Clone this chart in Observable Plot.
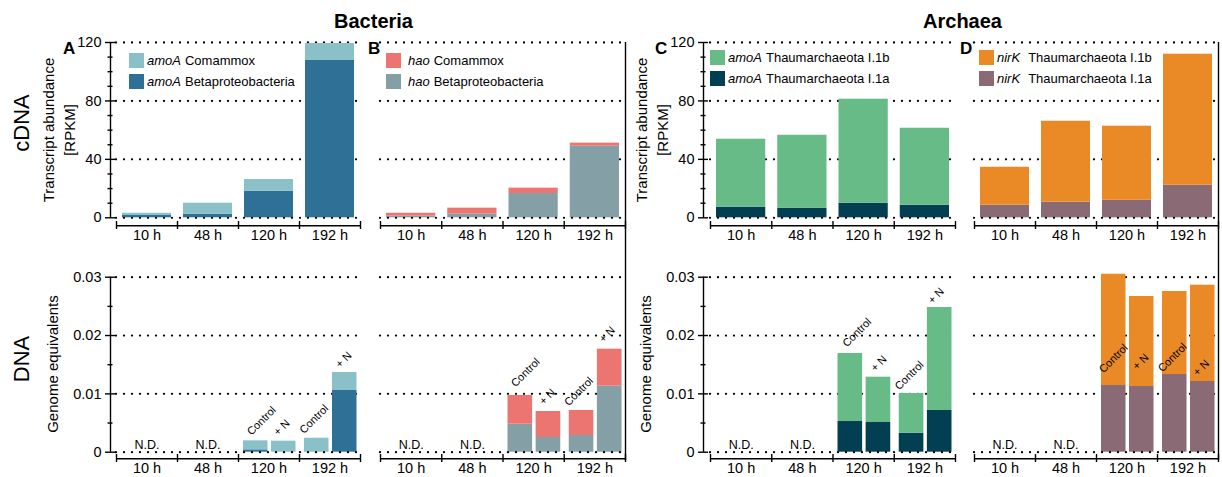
<!DOCTYPE html>
<html>
<head>
<meta charset="utf-8">
<script src="https://cdn.jsdelivr.net/npm/d3@7"></script>
<script src="https://cdn.jsdelivr.net/npm/@observablehq/plot@0.6"></script>
<style>
  html, body { margin: 0; padding: 0; background: #fff; }
  #fig { position: relative; width: 1222px; height: 477px; overflow: hidden;
         font-family: "Liberation Sans", Arial, Helvetica, sans-serif; color: #000; }
  #fig svg { position: absolute; left: 0; top: 0; }
  .t { position: absolute; white-space: nowrap; line-height: 1; }
  .rot { position: absolute; white-space: nowrap; text-align: center;
         transform: translate(-50%, -50%) rotate(-90deg); }
  .leg { position: absolute; font-size: 13px; line-height: 15px; }
  .leg .row { display: flex; align-items: center; height: 15px; margin-bottom: 6px; white-space: nowrap; }
  .leg .sw { width: 15px; height: 15px; flex: none; }
</style>
</head>
<body>
<div id="fig"></div>
<script>
// ---------------- data ----------------
const times = ["10 h", "48 h", "120 h", "192 h"];
const treatments = ["Control", "+ N"];
const notDetected = ["10 h", "48 h"];
// DNA bars (genome equivalents) exist only for these time / treatment slots
const dnaTime = ["120 h", "120 h", "192 h", "192 h"];
const dnaTreatment = ["Control", "+ N", "Control", "+ N"];

// cDNA transcript abundance [RPKM], one value per time
const amoaBetaCdna     = [1.6, 2.5, 18.2, 107.7];
const amoaComammoxCdna = [1.5, 7.5, 8.0, 11.6];
const haoBetaCdna      = [1.1, 2.5, 16.6, 49.0];
const haoComammoxCdna  = [2.0, 4.1, 3.7, 2.1];
const amoaI1aCdna      = [7.3, 6.6, 10.0, 8.6];
const amoaI1bCdna      = [46.5, 49.9, 71.2, 52.7];
const nirkI1aCdna      = [8.6, 10.7, 12.0, 22.3];
const nirkI1bCdna      = [26.0, 55.4, 50.7, 89.7];

// DNA genome equivalents, one value per dna slot
const amoaBetaDna      = [0.0004, 0, 0, 0.01058];
const amoaComammoxDna  = [0.00155, 0.00189, 0.0024, 0.00308];
const haoBetaDna       = [0.0048, 0.00252, 0.00286, 0.01132];
const haoComammoxDna   = [0.00492, 0.00446, 0.00429, 0.00634];
const amoaI1aDna       = [0.00526, 0.00509, 0.00326, 0.00715];
const amoaI1bDna       = [0.01166, 0.00777, 0.0068, 0.01765];
const nirkI1aDna       = [0.01143, 0.01126, 0.01332, 0.01212];
const nirkI1bDna       = [0.01908, 0.01543, 0.01423, 0.01651];

// ticks
const cdnaTicks = [0, 40, 80, 120];
const cdnaMinorTicks = [10, 20, 30, 50, 60, 70, 90, 100, 110];
const dnaTicks = [0, 0.01, 0.02, 0.03];
const dnaTickLabels = ["0", "0.01", "0.02", "0.03"];
const dnaMinorTicks = [0.005, 0.015, 0.025];

// ---------------- layout / style ----------------
const W = 1222, H = 477;
const FONT = '"Liberation Sans", Arial, Helvetica, sans-serif';
const dotted = {stroke: "#000", strokeWidth: 2.3, strokeDasharray: "0 8", strokeLinecap: "round"};
const axisStroke = {stroke: "#000", strokeWidth: 1.4};

const panels = [
  {id: "A", x0: 116, x1: 360, yAxis: 110, sep: false, gene: "amoA",
   taxa: ["Betaproteobacteria", "Comammox"], colors: ["#2f7096", "#8ac1c9"],
   cdna: [amoaBetaCdna, amoaComammoxCdna], dna: [amoaBetaDna, amoaComammoxDna],
   labelOnBase: false, labelDx: [13, 9, 4.5, 10], labelDy: [-5, -5, -4, -4],
   legend: {left: 129, top: 53, gap: 3, geneGap: 4}},
  {id: "B", x0: 380, x1: 625, yAxis: null, sep: true, gene: "hao",
   taxa: ["Betaproteobacteria", "Comammox"], colors: ["#849fa6", "#ec7571"],
   cdna: [haoBetaCdna, haoComammoxCdna], dna: [haoBetaDna, haoComammoxDna],
   labelOnBase: false, labelDx: [12.5, 10, 4.5, 8.5], labelDy: [-8, -6, -4, -6],
   legend: {left: 386, top: 53, gap: 7, geneGap: 4}},
  {id: "C", x0: 710, x1: 955, yAxis: 703, sep: false, gene: "amoA",
   taxa: ["Thaumarchaeota I.1a", "Thaumarchaeota I.1b"], colors: ["#023f52", "#66bb87"],
   cdna: [amoaI1aCdna, amoaI1bCdna], dna: [amoaI1aDna, amoaI1bDna],
   labelOnBase: false, labelDx: [14, 11.5, 5, 7.5], labelDy: [-6, -5, -3, -3],
   legend: {left: 710, top: 50, gap: 3, geneGap: 4}},
  {id: "D", x0: 974, x1: 1218, yAxis: null, sep: true, gene: "nirK",
   taxa: ["Thaumarchaeota I.1a", "Thaumarchaeota I.1b"], colors: ["#8a6b75", "#ea8a27"],
   cdna: [nirkI1aCdna, nirkI1bCdna], dna: [nirkI1aDna, nirkI1bDna],
   labelOnBase: true, labelDx: [7, 10, 5, 9.5], labelDy: [-12, -16, -2, -5],
   legend: {left: 979, top: 50, gap: 3, geneGap: 8}}
];

const fig = document.getElementById("fig");
const seriesNames = p => p.taxa.map(t => p.gene + " " + t);

function yAxisMarks(p, ticks, minor, top, fmt) {
  if (p.yAxis == null) return [];
  return [
    Plot.ruleX([0], {dx: p.yAxis - p.x0, y1: 0, y2: top, ...axisStroke}),
    Plot.axisY({ticks: minor, tickSize: 5, dx: 2.5, fill: null, label: null, strokeWidth: 1.4}),
    Plot.axisY({ticks: ticks, tickSize: 10, dx: 5, fill: null, label: null, strokeWidth: 1.4}),
    Plot.axisY({ticks: ticks, tickSize: 0, tickPadding: 9, fontSize: 14.5, label: null, tickFormat: fmt})
  ];
}

function xAxisMarks(axisDy) {
  return [
    Plot.ruleY([0], {x1: 0, x2: times.length, dy: axisDy, ...axisStroke}),
    Plot.axisX({ticks: d3.range(times.length + 1), tickSize: 8, dy: -4, fill: null, label: null, strokeWidth: 1.4}),
    Plot.axisX({ticks: times.map((t, i) => i + 0.5), tickSize: 0, tickPadding: 4, fontSize: 14.5,
                label: null, tickFormat: d => times[Math.floor(d)]})
  ];
}

function yScale(p, domain, range) {
  const s = {domain, range, label: null};
  if (p.yAxis == null) s.axis = null;
  return s;
}

function topPlot(p) {
  const names = seriesNames(p);
  const rows = times.flatMap((t, i) => names.map((s, k) => ({time: t, slot: i, series: s, value: p.cdna[k][i]})));
  const marks = [
    Plot.ruleY(cdnaTicks.filter(d => d > 0), {x1: 0, x2: times.length, ...dotted}),
    Plot.rectY(rows, {x1: "slot", x2: d => d.slot + 1, y: "value", fill: "series", insetLeft: 6, insetRight: 6}),
    Plot.ruleY([0], {x1: 0, x2: times.length, ...dotted}),
    ...xAxisMarks(8),
    ...yAxisMarks(p, cdnaTicks, cdnaMinorTicks, 120, d => String(d))
  ];
  if (p.sep) marks.push(Plot.ruleX([times.length], {...axisStroke}));
  return Plot.plot({
    width: W, height: H,
    marginTop: 42, marginBottom: H - 225, marginLeft: p.yAxis ?? p.x0, marginRight: 0,
    x: {domain: [0, times.length], range: [p.x0, p.x1], label: null},
    y: yScale(p, [0, 120], [217.3, 42]),
    color: {domain: names, range: p.colors},
    style: {fontFamily: FONT, fontSize: "14.5px", background: "transparent", overflow: "visible"},
    marks
  });
}

function bottomPlot(p) {
  const names = seriesNames(p);
  const slots = dnaTime.map((t, j) => ({
    j, time: t, treatment: dnaTreatment[j],
    slot: times.indexOf(t) + treatments.indexOf(dnaTreatment[j]) * 0.5,
    base: p.dna[0][j], total: p.dna[0][j] + p.dna[1][j]
  }));
  const rows = slots.flatMap(s => names.map((n, k) => ({...s, series: n, value: p.dna[k][s.j]})));
  const marks = [
    Plot.ruleY(dnaTicks.filter(d => d > 0), {x1: 0, x2: times.length, ...dotted}),
    Plot.rectY(rows.filter(d => d.treatment === treatments[0]),
      {x1: "slot", x2: d => d.slot + 0.5, y: "value", fill: "series", insetLeft: 5, insetRight: 1}),
    Plot.rectY(rows.filter(d => d.treatment === treatments[1]),
      {x1: "slot", x2: d => d.slot + 0.5, y: "value", fill: "series", insetLeft: 2.5, insetRight: 3.5}),
    Plot.ruleY([0], {x1: 0, x2: times.length, ...dotted}),
    ...slots.map(s => Plot.text([s], {
      x: "slot", y: p.labelOnBase ? "base" : "total", text: "treatment",
      rotate: -45, textAnchor: "start", lineAnchor: "bottom",
      dx: p.labelDx[s.j], dy: p.labelDy[s.j], fontSize: 11
    })),
    Plot.text(notDetected, {x: d => times.indexOf(d) + 0.5, y: 0, text: () => "N.D.",
      lineAnchor: "bottom", dy: -3, fontSize: 12.5}),
    ...xAxisMarks(6.6),
    ...yAxisMarks(p, dnaTicks, dnaMinorTicks, 0.03, d => dnaTickLabels[dnaTicks.indexOf(d)])
  ];
  if (p.sep) marks.push(Plot.ruleX([times.length], {insetBottom: -2, ...axisStroke}));
  return Plot.plot({
    width: W, height: H,
    marginTop: 225, marginBottom: H - 458, marginLeft: p.yAxis ?? p.x0, marginRight: 0,
    x: {domain: [0, times.length], range: [p.x0, p.x1], label: null},
    y: yScale(p, [0, 0.03], [451.7, 276.7]),
    color: {domain: names, range: p.colors},
    style: {fontFamily: FONT, fontSize: "14.5px", background: "transparent", overflow: "visible"},
    marks
  });
}

for (const p of panels) {
  fig.appendChild(topPlot(p));
  fig.appendChild(bottomPlot(p));
}

// ---------------- text overlays ----------------
function addText(txt, css, cls = "t") {
  const d = document.createElement("div");
  d.className = cls;
  d.innerHTML = txt;
  Object.assign(d.style, css);
  fig.appendChild(d);
  return d;
}
addText("Bacteria", {left: "373.5px", top: "11px", fontSize: "20px", fontWeight: "bold", transform: "translateX(-50%)"});
addText("Archaea", {left: "962.5px", top: "11px", fontSize: "20px", fontWeight: "bold", transform: "translateX(-50%)"});
const letterX = {A: 63, B: 368, C: 655, D: 960};
for (const p of panels) addText(p.id, {left: letterX[p.id] + "px", top: "39.6px", fontSize: "17px", fontWeight: "bold"});

addText("cDNA", {left: "22.4px", top: "123px", fontSize: "22px", lineHeight: "22px"}, "rot");
addText("DNA", {left: "22.4px", top: "359px", fontSize: "22px", lineHeight: "22px"}, "rot");
for (const p of panels.filter(q => q.yAxis != null)) {
  const off = p.yAxis - 110;
  addText("Transcript abundance<br>[RPKM]", {left: (59.3 + off) + "px", top: "130px", fontSize: "15px", lineHeight: "21px"}, "rot");
  addText("Genome equivalents", {left: (51.8 + off) + "px", top: "364px", fontSize: "15px", lineHeight: "21px"}, "rot");
}

for (const p of panels) {
  const leg = document.createElement("div");
  leg.className = "leg";
  leg.style.left = p.legend.left + "px";
  leg.style.top = p.legend.top + "px";
  [1, 0].forEach(k => {
    const row = document.createElement("div");
    row.className = "row";
    row.innerHTML = `<div class="sw" style="background:${p.colors[k]}"></div>` +
      `<span style="margin-left:${p.legend.gap}px"><i style="margin-right:${p.legend.geneGap}px">${p.gene}</i>${p.taxa[k]}</span>`;
    leg.appendChild(row);
  });
  fig.appendChild(leg);
}
</script>
</body>
</html>
